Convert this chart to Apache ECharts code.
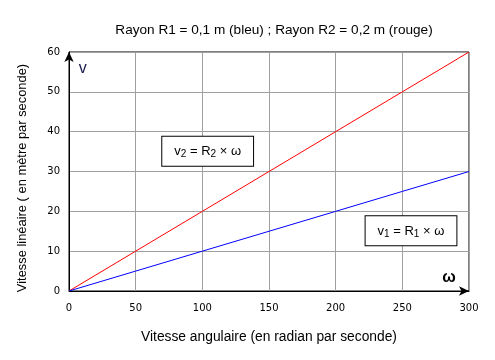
<!DOCTYPE html>
<html><head><meta charset="utf-8">
<script src="https://cdn.jsdelivr.net/npm/echarts@6/dist/echarts.min.js"></script>
<style>html,body{margin:0;padding:0;background:#fff}#c{width:495px;height:360px}</style>
</head><body><div id="c"></div>
<script>
var titleText = 'Rayon R1 = 0,1 m (bleu) ; Rayon R2 = 0,2 m (rouge)';
var omega = [0, 50, 100, 150, 200, 250, 300];
var v1 = [0, 5, 10, 15, 20, 25, 30];
var v2 = [0, 10, 20, 30, 40, 50, 60];
var xName = 'Vitesse angulaire (en radian par seconde)';
var yName = 'Vitesse linéaire ( en mètre par seconde)';
var ann2 = [104, 35.1];
var ann1 = [256.5, 15.1];

function pairs(xs, ys){ return xs.map(function(x,i){return [x, ys[i]];}); }
var font = 'Liberation Sans, Arial, sans-serif';
var tickFont = 'DejaVu Sans, Verdana, sans-serif';
var rich = {
  t: {fontSize: 13, fontFamily: font, color: '#000'},
  s: {fontSize: 10, fontFamily: font, color: '#000', verticalAlign: 'bottom', padding: [6,0,0,0]}
};
function annLabel(txt){
  return {show: true, position: 'inside', formatter: txt, rich: rich,
    backgroundColor: '#fff', borderColor: '#000', borderWidth: 1,
    padding: [7, 12, 6, 12]};
}
var chart = echarts.init(document.getElementById('c'), null, {renderer: 'canvas'});
chart.setOption({
  animation: false,
  backgroundColor: '#fff',
  title: {text: titleText, left: 269, top: 18, textAlign: 'center',
    textStyle: {fontSize: 13.6, fontWeight: 'normal', fontFamily: font, color: '#000'}},
  grid: {left: 69, right: 26, top: 52, bottom: 69, show: true, borderColor: '#000', borderWidth: 1, backgroundColor: 'transparent'},
  xAxis: {type: 'value', min: 0, max: 300, interval: 50,
    name: xName, nameLocation: 'middle', nameGap: 39,
    nameTextStyle: {fontSize: 13.8, fontFamily: font, color: '#000'},
    axisLine: {lineStyle: {color: '#000', width: 1}, symbol: ['none', 'arrow'], symbolSize: [7, 10]},
    axisTick: {show: false},
    axisLabel: {fontSize: 10, fontFamily: tickFont, color: '#000', margin: 12},
    splitLine: {lineStyle: {color: '#a0a0a0', width: 1}}},
  yAxis: {type: 'value', min: 0, max: 60, interval: 10,
    name: yName, nameLocation: 'middle', nameGap: 40,
    nameTextStyle: {fontSize: 12.9, fontFamily: font, color: '#000', padding: [0, 13, 0, 0]},
    axisLine: {lineStyle: {color: '#000', width: 1}, symbol: ['none', 'arrow'], symbolSize: [7, 10]},
    axisTick: {show: false},
    axisLabel: {fontSize: 10, fontFamily: tickFont, color: '#000', margin: 9},
    splitLine: {lineStyle: {color: '#a0a0a0', width: 1}}},
  series: [
    {type: 'line', data: pairs(omega, v2), showSymbol: false, lineStyle: {color: '#ff0000', width: 1},
      markPoint: {symbol: 'rect', symbolSize: 0, silent: true,
        data: [{coord: ann2, label: annLabel('{t|v}{s|2}{t| = R}{s|2}{t| × ω}')}]}},
    {type: 'line', data: pairs(omega, v1), showSymbol: false, lineStyle: {color: '#0000ff', width: 1},
      markPoint: {symbol: 'rect', symbolSize: 0, silent: true,
        data: [{coord: ann1, label: annLabel('{t|v}{s|1}{t| = R}{s|1}{t| × ω}')}]}}
  ],
  graphic: []
});
var pv = chart.convertToPixel({gridIndex: 0}, [8, 56]);
var pw = chart.convertToPixel({gridIndex: 0}, [283, 3.5]);
chart.setOption({graphic: [
  {type: 'text', left: pv[0] - 1, top: pv[1] - 7, style: {text: 'v', fontSize: 16, fontFamily: font, fill: '#1a1a50'}},
  {type: 'text', left: pw[0] - 4, top: pw[1] - 7, style: {text: 'ω', fontSize: 16, fontWeight: 'bold', fontFamily: font, fill: '#000'}}
]});
</script></body></html>
